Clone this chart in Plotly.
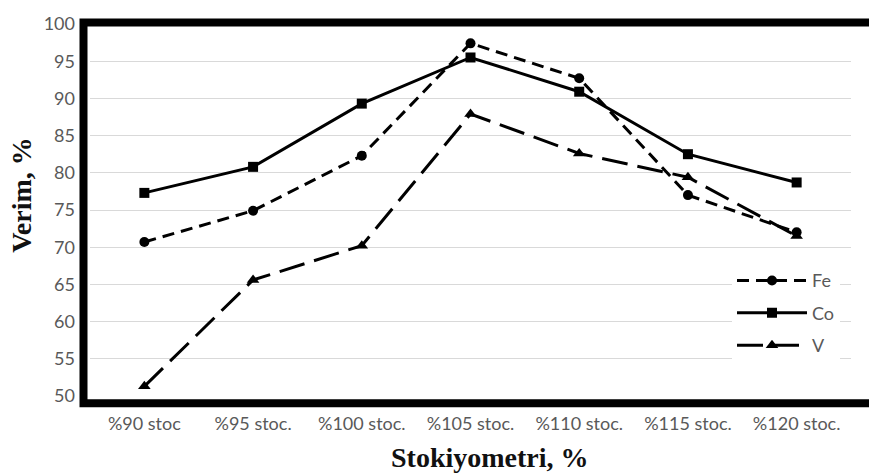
import plotly.graph_objects as go

categories = ["%90 stoc", "%95 stoc.", "%100 stoc.", "%105 stoc.", "%110 stoc.", "%115 stoc.", "%120 stoc."]
fe_values = [70.7, 74.9, 82.3, 97.4, 92.7, 77.0, 72.0]
co_values = [77.3, 80.8, 89.3, 95.5, 90.9, 82.5, 78.7]
v_values = [51.3, 65.6, 70.2, 87.9, 82.6, 79.4, 71.5]
y_ticks = [50, 55, 60, 65, 70, 75, 80, 85, 90, 95, 100]

W, H = 869, 475
L, R, T, B = 90, 18, 15, 79
pw = W - L - R
ph = H - T - B

def px_x(x):
    return (x - L) / pw

def px_y(y):
    return (H - B - y) / ph

tick_font = dict(family="Lato, Carlito, sans-serif", size=18, color="#595959")
title_font = dict(family="Liberation Serif, Times New Roman, serif", size=28, color="#111111")

fig = go.Figure()
fig.add_trace(go.Scatter(
    x=categories, y=fe_values, name="Fe", mode="lines+markers",
    line=dict(color="black", width=3, dash="12px,7px"),
    marker=dict(symbol="circle", size=10, color="black"),
    legendgroup="fe"))
fig.add_trace(go.Scatter(
    x=categories, y=co_values, name="Co", mode="lines+markers",
    line=dict(color="black", width=3),
    marker=dict(symbol="square", size=10, color="black"),
    legendgroup="co"))
fig.add_trace(go.Scatter(
    x=categories, y=v_values, name="V", mode="lines+markers",
    line=dict(color="black", width=3, dash="26px,10px"),
    marker=dict(symbol="triangle-up", size=11, color="black"),
    legendgroup="v"))

fig.update_layout(
    width=W, height=H,
    margin=dict(l=L, r=R, t=T, b=B),
    paper_bgcolor="white", plot_bgcolor="white",
    showlegend=True,
    legend=dict(
        x=px_x(732), y=px_y(259), xanchor="left", yanchor="top",
        bgcolor="white", font=tick_font, tracegroupgap=6,
        itemwidth=70, borderwidth=0),
    xaxis=dict(
        type="category", range=[-0.5, 6.5], showgrid=False, zeroline=False,
        showline=False, tickfont=tick_font, ticks="", ticklabelstandoff=15),
    yaxis=dict(
        range=[50, 100], tickvals=y_ticks, showgrid=True, gridcolor="#d9d9d9",
        gridwidth=1, zeroline=False, showline=False, tickfont=tick_font,
        ticks="", ticklabelstandoff=14),
    shapes=[dict(
        type="rect", xref="paper", yref="paper",
        x0=px_x(83.5), x1=px_x(880), y0=px_y(403.5), y1=px_y(13.5),
        line=dict(color="black", width=8), layer="above")],
    annotations=[
        dict(text="<b>Stokiyometri, %</b>", xref="paper", yref="paper",
             x=px_x(490), y=px_y(459), xanchor="center", yanchor="middle",
             showarrow=False, font=title_font),
        dict(text="<b>Verim, %</b>", xref="paper", yref="paper",
             x=px_x(22), y=px_y(190), xanchor="center", yanchor="middle",
             showarrow=False, font=title_font, textangle=-90),
    ],
)

fig.write_html("out.html")
